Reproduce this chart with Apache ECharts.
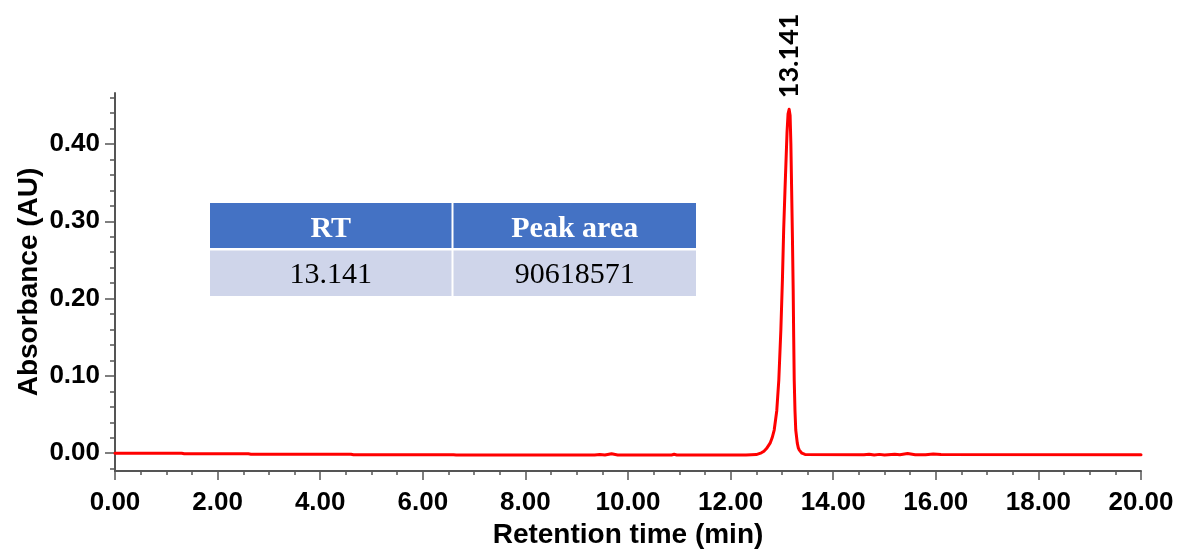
<!DOCTYPE html>
<html>
<head>
<meta charset="utf-8">
<title>HPLC chromatogram</title>
<script src="https://cdn.jsdelivr.net/npm/echarts@6.0.0/dist/echarts.min.js"></script>
<style>
  html, body { margin: 0; padding: 0; background: #ffffff; }
  #chart { width: 1182px; height: 549px; }
</style>
</head>
<body>
<div id="chart"></div>
<script>
// Chromatogram trace: retention time (min) and absorbance (AU)
const retentionTime = [
  0.00, 1.30, 1.35, 2.60, 2.65, 4.60, 4.65, 6.60, 6.65, 9.35,
  9.45, 9.55, 9.68, 9.80, 10.85, 10.90, 10.95, 12.30, 12.50, 12.60,
  12.65, 12.70, 12.77, 12.81, 12.85, 12.90, 12.94, 12.98, 13.01, 13.035,
  13.06, 13.10, 13.12, 13.141, 13.16, 13.175, 13.19, 13.205, 13.22, 13.23,
  13.24, 13.255, 13.27, 13.30, 13.32, 13.34, 13.39, 13.45, 14.60, 14.70,
  14.80, 14.90, 15.00, 15.20, 15.30, 15.45, 15.60, 15.80, 15.95, 16.10,
  20.00
];
const absorbance = [
  0.0000, 0.0000, -0.0007, -0.0008, -0.0013, -0.0014, -0.0020, -0.0021, -0.0024, -0.0024,
  -0.0018, -0.0024, -0.0008, -0.0022, -0.0022, -0.0014, -0.0022, -0.0022, -0.0018, 0.0005,
  0.0025, 0.0060, 0.0130, 0.0200, 0.0300, 0.0550, 0.0950, 0.1600, 0.2240, 0.2900,
  0.3400, 0.4150, 0.4390, 0.4450, 0.4370, 0.4000, 0.3400, 0.2800, 0.2110, 0.1500,
  0.0950, 0.0550, 0.0300, 0.0130, 0.0070, 0.0040, 0.0000, -0.0015, -0.0020, -0.0012,
  -0.0022, -0.0015, -0.0022, -0.0014, -0.0020, -0.0005, -0.0020, -0.0020, -0.0010, -0.0018,
  -0.0020
];

// Labelled peak
const peakRT = 13.141;

// Axis ticks
const yMajorTicks = [0, 0.1, 0.2, 0.3, 0.4];
const yMinorTicks = [-0.02, 0, 0.02, 0.04, 0.06, 0.08, 0.1, 0.12, 0.14, 0.16, 0.18, 0.2,
  0.22, 0.24, 0.26, 0.28, 0.3, 0.32, 0.34, 0.36, 0.38, 0.4, 0.42, 0.44, 0.46];

// Peak table
const tableHeader = ['RT', 'Peak area'];
const tableRow = ['13.141', '90618571'];

const axisColor = '#555555';
const labelFont = { fontFamily: 'Liberation Sans', fontWeight: 'bold', fontSize: 26, color: '#000' };

const seriesData = retentionTime.map((t, i) => [t, absorbance[i]]);
const peakIndex = retentionTime.indexOf(peakRT);

// Table cells drawn as graphic elements
const tableX = 210, colW = [241.5, 242.5], headerY = 203, headerH = 45, rowY = 250.5, rowH = 45.5, gap = 2;
const tableGraphics = [];
let cx = tableX;
tableHeader.forEach((h, i) => {
  tableGraphics.push({
    type: 'rect', shape: { x: cx, y: headerY, width: colW[i], height: headerH },
    style: { fill: '#4472C4' }, silent: true
  });
  tableGraphics.push({
    type: 'text', x: cx + colW[i] / 2, y: headerY + headerH / 2 + 4,
    style: { text: h, fill: '#fff', font: 'bold 30px "Liberation Serif"', align: 'center', verticalAlign: 'middle' },
    silent: true
  });
  tableGraphics.push({
    type: 'rect', shape: { x: cx, y: rowY, width: colW[i], height: rowH },
    style: { fill: '#CFD5EA' }, silent: true
  });
  tableGraphics.push({
    type: 'text', x: cx + colW[i] / 2, y: rowY + rowH / 2 + 2,
    style: { text: tableRow[i], fill: '#000', font: '30px "Liberation Serif"', align: 'center', verticalAlign: 'middle' },
    silent: true
  });
  cx += colW[i] + gap;
});

const chart = echarts.init(document.getElementById('chart'), null, { renderer: 'canvas' });
chart.setOption({
  backgroundColor: '#ffffff',
  animation: false,
  grid: { left: 115, right: 41, top: 93, bottom: 78, containLabel: false, outerBoundsMode: 'none' },
  xAxis: {
    type: 'value',
    min: 0,
    max: 20,
    interval: 2,
    name: 'Retention time (min)',
    nameLocation: 'middle',
    nameGap: 50,
    nameMoveOverlap: false,
    nameTextStyle: { fontFamily: 'Liberation Sans', fontWeight: 'bold', fontSize: 28, color: '#000' },
    splitLine: { show: false },
    axisLine: { show: true, onZero: false, lineStyle: { color: axisColor, width: 2 } },
    axisTick: { show: true, length: 9, lineStyle: { color: axisColor, width: 1.5 } },
    minorTick: { show: true, splitNumber: 4, length: 4, lineStyle: { color: axisColor, width: 1.5 } },
    axisLabel: Object.assign({ margin: 19, formatter: v => v.toFixed(2) }, labelFont)
  },
  yAxis: [
    {
      type: 'value',
      min: -0.023,
      max: 0.466,
      name: 'Absorbance (AU)',
      nameLocation: 'middle',
      nameGap: 72,
      nameRotate: 90,
      nameMoveOverlap: false,
      nameTextStyle: { fontFamily: 'Liberation Sans', fontWeight: 'bold', fontSize: 28, color: '#000' },
      splitLine: { show: false },
      axisLine: { show: true, onZero: false, lineStyle: { color: axisColor, width: 2 } },
      axisTick: { show: true, length: 10, customValues: yMajorTicks, lineStyle: { color: axisColor, width: 1.5 } },
      axisLabel: Object.assign({ margin: 15, customValues: yMajorTicks, formatter: v => v.toFixed(2) }, labelFont)
    },
    {
      type: 'value',
      min: -0.023,
      max: 0.466,
      position: 'left',
      splitLine: { show: false },
      axisLine: { show: false },
      axisTick: { show: true, length: 5, customValues: yMinorTicks, lineStyle: { color: axisColor, width: 1.5 } },
      axisLabel: { show: false, customValues: yMinorTicks }
    }
  ],
  graphic: tableGraphics,
  series: [
    {
      type: 'line',
      data: seriesData,
      showSymbol: false,
      symbol: 'none',
      smooth: false,
      lineStyle: { color: '#FF0000', width: 3, join: 'round', cap: 'round' },
      z: 3,
      markPoint: {
        symbol: 'circle',
        symbolSize: 0,
        silent: true,
        data: [{
          coord: seriesData[peakIndex],
          value: peakRT,
          label: {
            show: true,
            formatter: peakRT.toFixed(3),
            position: 'top',
            distance: 11,
            rotate: 90,
            align: 'left',
            verticalAlign: 'middle',
            fontFamily: 'Lato',
            fontWeight: 'bold',
            fontSize: 27,
            color: '#000'
          }
        }]
      }
    }
  ]
});
</script>
</body>
</html>
